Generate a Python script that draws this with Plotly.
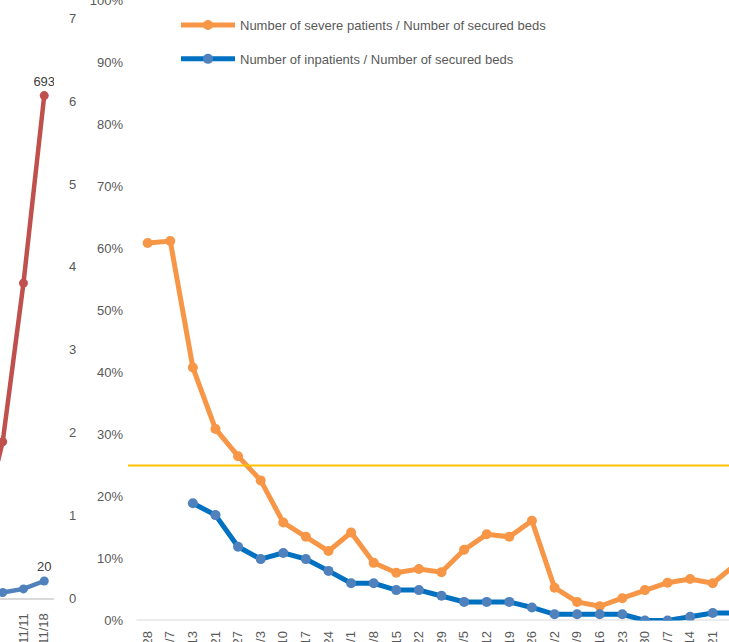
import plotly.graph_objects as go

# ---- main chart data (ratio to secured beds) ----
main_dates = ["4/28", "5/7", "5/13", "5/21", "5/27", "6/3", "6/10", "6/17", "6/24",
              "7/1", "7/8", "7/15", "7/22", "7/29", "8/5", "8/12", "8/19", "8/26",
              "9/2", "9/9", "9/16", "9/23", "9/30", "10/7", "10/14", "10/21", "10/28"]
severe_ratio = [0.609, 0.612, 0.408, 0.309, 0.265, 0.226, 0.158, 0.135, 0.112,
                0.142, 0.093, 0.077, 0.083, 0.078, 0.114, 0.139, 0.135, 0.161,
                0.053, 0.030, 0.023, 0.036, 0.049, 0.061, 0.067, 0.060, 0.090]
inpatient_ratio = [None, None, 0.189, 0.170, 0.119, 0.099, 0.109, 0.099, 0.080,
                   0.060, 0.060, 0.049, 0.049, 0.040, 0.030, 0.030, 0.030, 0.021,
                   0.010, 0.010, 0.010, 0.010, 0.000, 0.000, 0.006, 0.012, 0.012]
THRESHOLD = 0.25

# ---- left (partial) chart data ----
left_dates = ["10/28", "11/4", "11/11", "11/18"]
left_red = [95, 213, 433, 693]
left_blue = [2, 4, 9, 20]
left_red_text = ["", "", "", "693"]
left_blue_text = ["", "", "", "20"]
left_axis_ticks = [0, 1, 2, 3, 4, 5, 6, 7]

W, H = 729, 642
GRAY = "#595959"
FONT = "Arial"

fig = go.Figure()

main_x = list(range(len(main_dates)))
left_x = list(range(len(left_dates)))

fig.add_trace(go.Scatter(
    x=main_x, y=severe_ratio, mode="lines+markers",
    name="Number of severe patients / Number of secured beds",
    line=dict(color="#F79646", width=5),
    marker=dict(color="#F79646", size=10),
    xaxis="x", yaxis="y", legendgroup="a", cliponaxis=True))
fig.add_trace(go.Scatter(
    x=main_x, y=inpatient_ratio, mode="lines+markers",
    name="Number of inpatients / Number of secured beds",
    line=dict(color="#0070C0", width=5),
    marker=dict(color="#4F81BD", size=10),
    xaxis="x", yaxis="y", legendgroup="b", cliponaxis=True))

fig.add_trace(go.Scatter(
    x=left_x, y=left_red, mode="lines+markers+text", text=left_red_text,
    textposition="top center", textfont=dict(family=FONT, size=13, color="#404040"),
    line=dict(color="#C0504D", width=4.5), marker=dict(color="#C0504D", size=9),
    xaxis="x2", yaxis="y2", showlegend=False))
fig.add_trace(go.Scatter(
    x=left_x, y=left_blue, mode="lines+markers+text", text=left_blue_text,
    textposition="top center", textfont=dict(family=FONT, size=13, color="#404040"),
    line=dict(color="#4F81BD", width=4.5), marker=dict(color="#4F81BD", size=9),
    xaxis="x2", yaxis="y2", showlegend=False))
# invisible trace that carries the right-hand 0-7 axis of the left chart
fig.add_trace(go.Scatter(
    x=[left_x[-1]] * len(left_axis_ticks), y=left_axis_ticks, mode="markers",
    marker=dict(opacity=0), hoverinfo="skip",
    xaxis="x2", yaxis="y3", showlegend=False))

# threshold line
fig.add_shape(type="line", xref="x domain", yref="y", x0=0, x1=1,
              y0=THRESHOLD, y1=THRESHOLD, line=dict(color="#FFC000", width=2))
# main baseline
fig.add_shape(type="line", xref="x", yref="y", x0=-0.5, x1=40, y0=0, y1=0,
              line=dict(color="#D9D9D9", width=2), layer="below")

tickfont = dict(family=FONT, size=13, color=GRAY)
x_left_px, x_main_px = 54, 128
y0_main = 1 - 620.5 / H
y1_main = 1 - 0.5 / H
y0_left = 1 - 598 / H
y1_left = 1 - 18.4 / H

fig.update_layout(
    width=W, height=H, autosize=False,
    margin=dict(l=0, r=0, t=0, b=0, pad=0),
    paper_bgcolor="white", plot_bgcolor="rgba(0,0,0,0)",
    font=dict(family=FONT, size=13, color=GRAY),
    xaxis=dict(domain=[x_main_px / W, 1], range=[-0.87, 25.72], anchor="y",
               tickmode="array", tickvals=main_x, ticktext=main_dates,
               tickangle=-90, showgrid=False, zeroline=False, showline=False,
               ticks="", tickfont=tickfont, automargin=False, ticklabelstandoff=7),
    yaxis=dict(domain=[y0_main, y1_main], range=[0, 1], anchor="x",
               tickformat=".0%", dtick=0.1, tick0=0, showgrid=False,
               zeroline=False, showline=False, ticks="", tickfont=tickfont,
               automargin=False, ticklabelstandoff=4, ticklabeloverflow="allow"),
    xaxis2=dict(domain=[0, x_left_px / W], range=[0.87, 3.47], anchor="y2",
                tickmode="array", tickvals=left_x, ticktext=left_dates,
                tickangle=-90, showgrid=False, zeroline=False, showline=True,
                linecolor="#D9D9D9", linewidth=2, ticks="", tickfont=tickfont,
                automargin=False, ticklabelstandoff=8),
    yaxis2=dict(domain=[y0_left, y1_left], range=[-3.6, 800], anchor="x2",
                showgrid=False, zeroline=False, showline=False, showticklabels=False,
                ticks="", automargin=False),
    yaxis3=dict(range=[0, 7], anchor="x2", overlaying="y2", side="right",
                dtick=1, tick0=0, showgrid=False, zeroline=False, showline=False,
                ticks="", tickfont=tickfont, automargin=False, ticklabelstandoff=14),
    legend=dict(x=176 / W, y=1 - 10 / H, xanchor="left", yanchor="top",
                bgcolor="rgba(0,0,0,0)", font=dict(family=FONT, size=13, color=GRAY),
                tracegroupgap=14, traceorder="grouped", itemwidth=54),
)

fig.write_html("out.html", config={"displayModeBar": False},
               post_script="document.body.style.margin='0';")
